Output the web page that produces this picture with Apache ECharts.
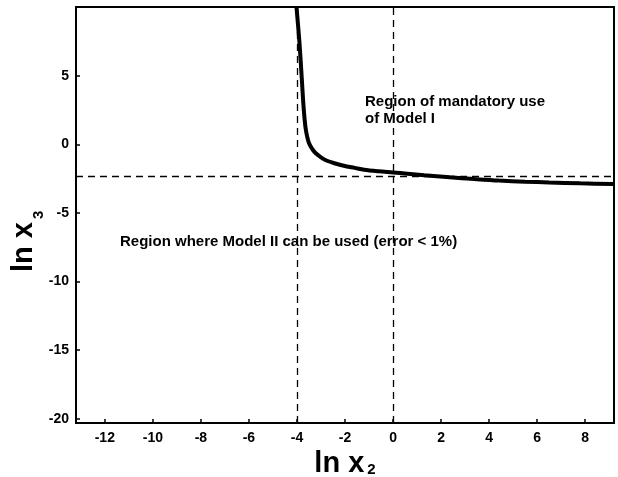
<!DOCTYPE html>
<html>
<head>
<meta charset="utf-8">
<script src="https://cdn.jsdelivr.net/npm/echarts@6/dist/echarts.min.js"></script>
<style>
  html, body { margin: 0; padding: 0; background: #fff; }
  #chart { width: 618px; height: 477px; }
</style>
</head>
<body>
<div id="chart"></div>
<script>
// Boundary curve between the two model regions (ln x2 vs ln x3)
const lnX2 = [-4.02, -3.9, -3.8, -3.72, -3.65, -3.58, -3.5, -3.38, -3.25, -3.0, -2.75, -2.4, -2.05, -1.6, -1.2, -0.6, 0, 0.6, 1.3, 2.35, 3.4, 4.4, 5.5, 6.5, 7.8, 9.2];
const lnX3 = [10, 7.5, 4.8, 2.6, 1.3, 0.6, 0.1, -0.3, -0.6, -0.95, -1.2, -1.4, -1.56, -1.72, -1.86, -1.97, -2.05, -2.14, -2.25, -2.4, -2.53, -2.64, -2.72, -2.78, -2.84, -2.9];

// Reference guide lines
const guideX = [-4, 0];
const guideY = [-2.36];

// Tick labels
const xTicks = [-12, -10, -8, -6, -4, -2, 0, 2, 4, 6, 8];
const yTicks = [-20, -15, -10, -5, 0, 5];

const regionTop = 'Region of mandatory use\nof Model I';
const regionBottom = 'Region where Model II can be used (error < 1%)';

const FONT = 'Liberation Sans, Arial, Helvetica, sans-serif';

const chart = echarts.init(document.getElementById('chart'), null, { renderer: 'canvas' });

const curve = lnX2.map((x, i) => [x, lnX3[i]]);

const guideData = guideX.map(v => ({ xAxis: v })).concat(guideY.map(v => ({ yAxis: v })));

chart.setOption({
  animation: false,
  backgroundColor: '#fff',
  grid: {
    left: 76, right: 4, top: 7, bottom: 54,
    outerBoundsMode: 'none', containLabel: false,
    show: true, borderColor: '#000', borderWidth: 2, backgroundColor: 'transparent'
  },
  xAxis: {
    type: 'value', min: -13.2, max: 9.2,
    name: '{m|ln x}{s|2}', nameLocation: 'middle', nameGap: 20,
    nameTextStyle: {
      rich: {
        m: { fontFamily: FONT, fontWeight: 'bold', fontSize: 29, color: '#000' },
        s: { fontFamily: FONT, fontWeight: 'bold', fontSize: 15, color: '#000', padding: [10, 0, 0, 3] }
      }
    },
    axisLine: { show: true, onZero: false, lineStyle: { color: '#000', width: 2 } },
    axisTick: { show: true, inside: true, length: 4, customValues: xTicks, lineStyle: { color: '#000', width: 1.5 } },
    axisLabel: { customValues: xTicks, color: '#000', fontFamily: FONT, fontWeight: 'bold', fontSize: 14, margin: 8 },
    splitLine: { show: false }
  },
  yAxis: {
    type: 'value', min: -20.3, max: 10,
    axisLine: { show: true, onZero: false, lineStyle: { color: '#000', width: 2 } },
    axisTick: { show: true, inside: true, length: 4, customValues: yTicks, lineStyle: { color: '#000', width: 1.5 } },
    axisLabel: { customValues: yTicks, color: '#000', fontFamily: FONT, fontWeight: 'bold', fontSize: 14, margin: 7 },
    splitLine: { show: false }
  },
  graphic: [
    // vertical axis title, drawn bottom-to-top
    {
      type: 'text', x: 9, y: 272, rotation: Math.PI / 2,
      style: {
        text: 'ln x', verticalAlign: 'top', align: 'left',
        fontFamily: FONT, fontWeight: 'bold', fontSize: 29, fill: '#000'
      }
    },
    {
      type: 'text', x: 31, y: 219, rotation: Math.PI / 2,
      style: {
        text: '3', verticalAlign: 'top', align: 'left',
        fontFamily: FONT, fontWeight: 'bold', fontSize: 15, fill: '#000'
      }
    },
    {
      type: 'text', left: 365, top: 93,
      style: { text: regionTop, fontFamily: FONT, fontWeight: 'bold', fontSize: 15, fill: '#000', lineHeight: 17 }
    },
    {
      type: 'text', left: 120, top: 234,
      style: { text: regionBottom, fontFamily: FONT, fontWeight: 'bold', fontSize: 15, fill: '#000' }
    }
  ],
  series: [
    {
      type: 'line',
      data: curve,
      showSymbol: false,
      smooth: 0.3,
      lineStyle: { color: '#000', width: 4 },
      z: 3,
      markLine: {
        silent: true,
        symbol: 'none',
        label: { show: false },
        lineStyle: { color: '#000', width: 1.3, type: [7, 5] },
        data: guideData
      }
    }
  ]
});
</script>
</body>
</html>
